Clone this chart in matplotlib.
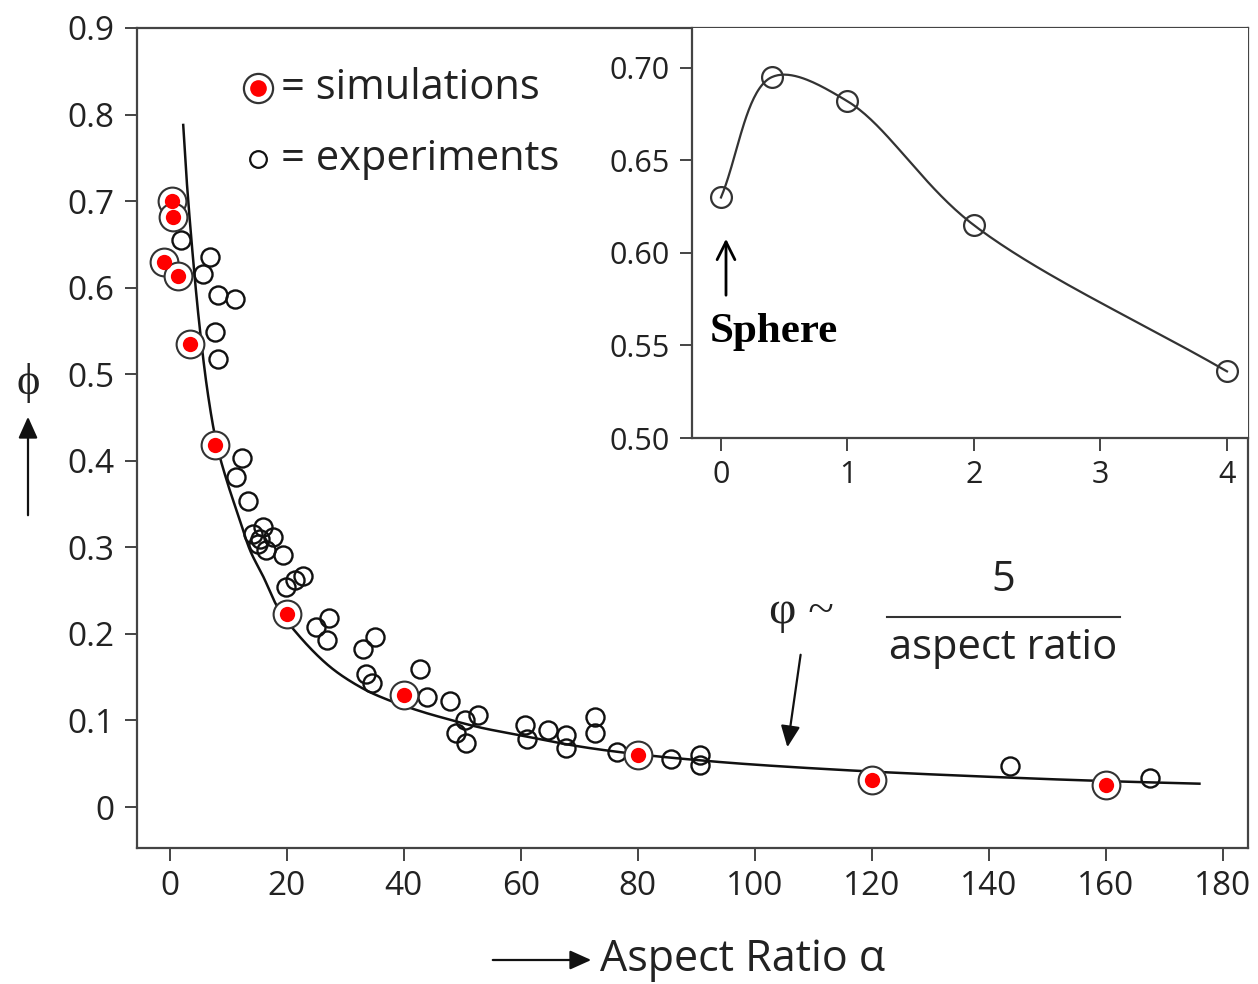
import numpy as np
import matplotlib
matplotlib.use("Agg")
import matplotlib.pyplot as plt
from matplotlib.patches import FancyArrowPatch

# ---------------- data ----------------
sim_alpha = [0.3, 0.6, -0.9, 1.4, 3.4, 7.7, 20, 40, 80, 120, 160]
sim_phi = [0.700, 0.682, 0.630, 0.613, 0.535, 0.418, 0.223, 0.129, 0.060, 0.031, 0.025]

exp_alpha = [2.0, 6.8, 5.7, 8.3, 11.1, 7.7, 8.3,
             12.3, 11.4, 13.4,
             14.2, 16.0, 17.7, 15.1, 16.5, 19.4, 15.5,
             19.9, 21.4, 22.8,
             27.2, 25.0, 26.8,
             35.0, 33.0, 33.6, 34.5,
             42.7, 43.9, 47.9,
             52.7, 50.4, 49.0, 50.7,
             60.7, 61.0, 64.7, 67.8, 67.8, 72.6, 72.6, 76.4, 85.7, 90.6, 90.6,
             143.6, 167.5]
exp_phi = [0.655, 0.635, 0.616, 0.591, 0.587, 0.549, 0.518,
           0.403, 0.381, 0.354,
           0.316, 0.324, 0.312, 0.304, 0.297, 0.291, 0.310,
           0.254, 0.262, 0.267,
           0.218, 0.208, 0.193,
           0.197, 0.183, 0.154, 0.143,
           0.160, 0.127, 0.122,
           0.106, 0.100, 0.085, 0.074,
           0.095, 0.079, 0.089, 0.083, 0.068, 0.104, 0.085, 0.064, 0.056, 0.060, 0.049,
           0.048, 0.033]

fit_alpha = [2.3, 2.85, 4.0, 5.1, 6.5, 8.0, 9.7, 12, 13.7, 16, 18.5, 22.2, 27.4,
             33, 37.6, 42.7, 47.3, 53, 59.8, 70, 80, 90.6, 100, 120, 143.6, 160, 176]
fit_phi = [0.788, 0.728, 0.632, 0.555, 0.478, 0.420, 0.378, 0.331, 0.297, 0.266,
           0.230, 0.197, 0.162, 0.137, 0.123, 0.111, 0.102, 0.092, 0.083, 0.070,
           0.061, 0.054, 0.049, 0.041, 0.034, 0.030, 0.027]

inset_alpha = [0, 0.4, 1, 2, 4]
inset_phi = [0.630, 0.695, 0.682, 0.615, 0.536]

main_xticks = [0, 20, 40, 60, 80, 100, 120, 140, 160, 180]
main_yticks = [0, 0.1, 0.2, 0.3, 0.4, 0.5, 0.6, 0.7, 0.8, 0.9]
main_yticklabels = ["0", "0.1", "0.2", "0.3", "0.4", "0.5", "0.6", "0.7", "0.8", "0.9"]
inset_xticks = [0, 1, 2, 3, 4]
inset_yticks = [0.50, 0.55, 0.60, 0.65, 0.70]
inset_yticklabels = ["0.50", "0.55", "0.60", "0.65", "0.70"]


def smooth(xs, ys, sx, sy, n=40):
    """Centripetal Catmull-Rom curve through the given points (in scaled space)."""
    P = np.column_stack([np.asarray(xs, float) / sx, np.asarray(ys, float) / sy])
    P = np.vstack([2 * P[0] - P[1], P, 2 * P[-1] - P[-2]])
    out = []
    for i in range(1, len(P) - 2):
        p0, p1, p2, p3 = P[i - 1], P[i], P[i + 1], P[i + 2]
        t0 = 0.0
        t1 = t0 + np.linalg.norm(p1 - p0) ** 0.5
        t2 = t1 + np.linalg.norm(p2 - p1) ** 0.5
        t3 = t2 + np.linalg.norm(p3 - p2) ** 0.5
        t = np.linspace(t1, t2, n, endpoint=False)[:, None]
        a1 = (t1 - t) / (t1 - t0) * p0 + (t - t0) / (t1 - t0) * p1
        a2 = (t2 - t) / (t2 - t1) * p1 + (t - t1) / (t2 - t1) * p2
        a3 = (t3 - t) / (t3 - t2) * p2 + (t - t2) / (t3 - t2) * p3
        b1 = (t2 - t) / (t2 - t0) * a1 + (t - t0) / (t2 - t0) * a2
        b2 = (t3 - t) / (t3 - t1) * a2 + (t - t1) / (t3 - t1) * a3
        c = (t2 - t) / (t2 - t1) * b1 + (t - t1) / (t2 - t1) * b2
        out.append(c)
    out.append(P[-2][None, :])
    out = np.vstack(out)
    return out[:, 0] * sx, out[:, 1] * sy


W, H = 1258, 984
plt.rcParams['font.family'] = ['Open Sans', 'DejaVu Sans']
fig = plt.figure(figsize=(W / 100, H / 100), dpi=100)


def fx(x):
    return x / W


def fy(y):
    return 1 - y / H


TXT = '#222222'
SP = '#444444'
SERIF = ['Liberation Serif', 'DejaVu Serif']

# ---------------- main axes ----------------
L, R, T, B = 137, 1248, 28, 848
ax = fig.add_axes([fx(L), fy(B), (R - L) / W, (B - T) / H])
ax.set_xlim(-5.6, 184.3)
ax.set_ylim(-0.0473, 0.8995)
ax.set_xticks(main_xticks)
ax.set_yticks(main_yticks)
ax.set_yticklabels(main_yticklabels)
ax.tick_params(direction='out', length=9, width=1.4, color=SP, labelsize=24,
               labelcolor=TXT, pad=7)
for s in ax.spines.values():
    s.set_color(SP)
    s.set_linewidth(1.6)

cx, cy = smooth(fit_alpha, fit_phi, 5.85, 0.0866)
ax.plot(cx, cy, color='#111111', lw=1.8, zorder=3)
ax.plot(exp_alpha, exp_phi, 'o', ms=13, mfc='none', mec='#111111', mew=1.7, zorder=2)
ax.plot(sim_alpha, sim_phi, 'o', ms=20, mfc='white', mec='#333333', mew=1.5, zorder=4)
ax.plot(sim_alpha, sim_phi, 'o', ms=11, mfc='#ff0000', mec='none', zorder=5)

# legend drawn by hand
ax.plot([258 / W], [fy(88)], 'o', ms=21, mfc='white', mec='#333333', mew=1.6,
        transform=fig.transFigure, clip_on=False, zorder=6)
ax.plot([258 / W], [fy(88)], 'o', ms=12, mfc='#ff0000', mec='none',
        transform=fig.transFigure, clip_on=False, zorder=7)
ax.plot([258 / W], [fy(159)], 'o', ms=12, mfc='none', mec='#111111', mew=1.6,
        transform=fig.transFigure, clip_on=False, zorder=6)
fig.text(fx(281), fy(88), '= simulations', fontsize=30, color=TXT, va='center', ha='left')
fig.text(fx(281), fy(159), '= experiments', fontsize=30, color=TXT, va='center', ha='left')

# formula annotation
fig.text(fx(801), fy(612), 'φ ~', fontsize=34, color=TXT, va='center', ha='center',
         family=SERIF)
fig.text(fx(1003), fy(580), '5', fontsize=30, color=TXT, va='center', ha='center')
fig.text(fx(1003), fy(648), 'aspect ratio', fontsize=30, color=TXT, va='center', ha='center')
fig.add_artist(plt.Line2D([fx(887), fx(1120)], [fy(617), fy(617)], color='#333333', lw=1.5))
fig.add_artist(FancyArrowPatch(
    (fx(801), fy(652)), (fx(787), fy(750)), transform=fig.transFigure,
    arrowstyle='-|>,head_length=10,head_width=4.5', mutation_scale=1.3, color='#111111', lw=1.6))

# axis labels with arrows
fig.text(fx(743), fy(960), 'Aspect Ratio α', fontsize=31, color=TXT, va='center', ha='center')
fig.add_artist(FancyArrowPatch(
    (fx(490), fy(960)), (fx(594), fy(960)), transform=fig.transFigure,
    arrowstyle='-|>,head_length=10,head_width=4.5', mutation_scale=1.3, color='#111111', lw=1.6))
fig.text(fx(28), fy(383), 'ϕ', fontsize=32, color=TXT, va='center', ha='center',
         family=SERIF)
fig.add_artist(FancyArrowPatch(
    (fx(28), fy(518)), (fx(28), fy(414)), transform=fig.transFigure,
    arrowstyle='-|>,head_length=10,head_width=4.5', mutation_scale=1.3, color='#111111', lw=1.6))

# ---------------- inset ----------------
iL, iB = 692, 438
axi = fig.add_axes([fx(iL), fy(iB), (R - iL) / W, (iB - T) / H])
axi.set_facecolor('white')
axi.set_xlim(-0.229, 4.166)
axi.set_ylim(0.50, 0.7216)
axi.set_xticks(inset_xticks)
axi.set_yticks(inset_yticks)
axi.set_yticklabels(inset_yticklabels)
axi.tick_params(direction='out', length=9, width=1.4, color=SP, labelsize=22,
                labelcolor=TXT, pad=7)
for k in ['top', 'right']:
    axi.spines[k].set_visible(False)
for k in ['left', 'bottom']:
    axi.spines[k].set_color(SP)
    axi.spines[k].set_linewidth(1.6)
ix, iy = smooth(inset_alpha, inset_phi, 1.0 / 126.5, 1.0 / 1850)
axi.plot(ix, iy, color='#333333', lw=1.6, zorder=2)
axi.plot(inset_alpha, inset_phi, 'o', ms=15, mfc='none', mec='#333333', mew=1.6, zorder=3)

fig.text(fx(774), fy(332), 'Sphere', fontsize=31, fontweight='bold', color='black',
         va='center', ha='center', family=SERIF)
fig.add_artist(FancyArrowPatch(
    (fx(726), fy(298)), (fx(726), fy(236)), transform=fig.transFigure,
    arrowstyle='->,head_length=8,head_width=4', mutation_scale=1.6, color='black', lw=2.0))

fig.savefig('out.png', dpi=100)
